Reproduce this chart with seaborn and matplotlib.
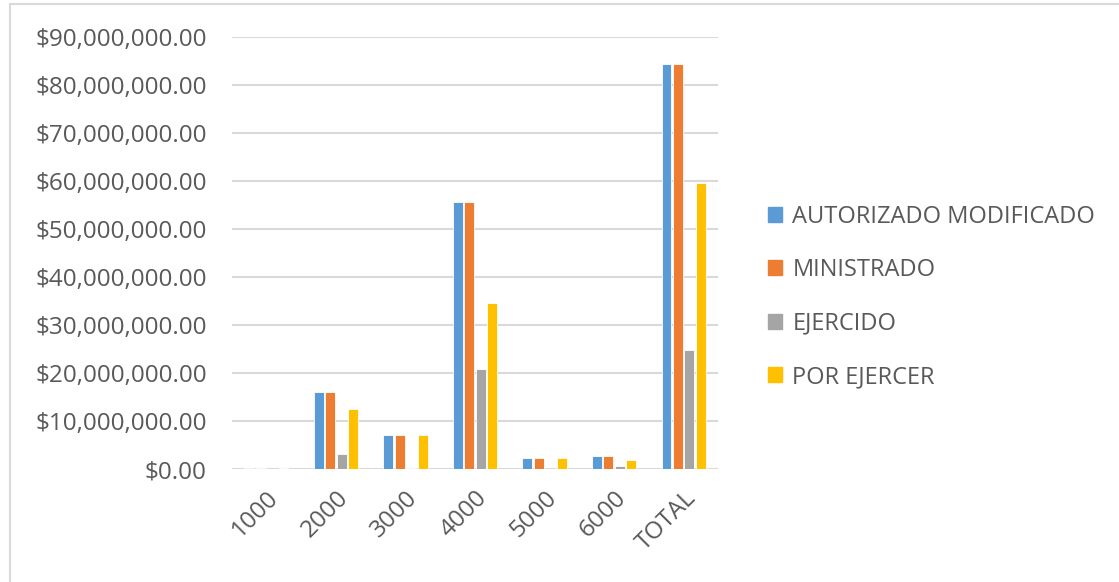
import pandas as pd
import seaborn as sns
import matplotlib
matplotlib.use('Agg')
import matplotlib.pyplot as plt
from matplotlib.lines import Line2D
from matplotlib.ticker import FuncFormatter

# Data (in pesos)
categories = ['1000', '2000', '3000', '4000', '5000', '6000', 'TOTAL']
autorizado = [300000, 16000000, 7200000, 55600000, 2300000, 2700000, 84500000]
ministrado = [300000, 16000000, 7200000, 55600000, 2300000, 2700000, 84500000]
ejercido = [50000, 3200000, 200000, 20800000, 0, 700000, 24800000]
por_ejercer = [250000, 12600000, 7100000, 34600000, 2300000, 1800000, 59600000]

series_names = ['AUTORIZADO MODIFICADO', 'MINISTRADO', 'EJERCIDO', 'POR EJERCER']
colors = ['#5B9BD5', '#ED7D31', '#A5A5A5', '#FFC000']

rows = []
for name, vals in zip(series_names, [autorizado, ministrado, ejercido, por_ejercer]):
    for cat, v in zip(categories, vals):
        rows.append({'Partida': cat, 'Serie': name, 'Monto': v})
df = pd.DataFrame(rows)

sns.set_style('white')
plt.rcParams['font.family'] = ['Open Sans', 'DejaVu Sans']
text_color = '#595959'

fig = plt.figure(figsize=(11.19, 5.82), dpi=100)
ax = fig.add_axes([0.207, 0.194, 0.435, 0.742])

sns.barplot(data=df, x='Partida', y='Monto', hue='Serie', hue_order=series_names,
            palette=colors, saturation=1, width=0.66, gap=0.15, ax=ax, errorbar=None,
            edgecolor='white', linewidth=0.6, legend=False, zorder=3)

ax.set_ylim(0, 90000000)
ax.set_yticks(range(0, 90000001, 10000000))
ax.yaxis.set_major_formatter(FuncFormatter(lambda v, p: '${:,.2f}'.format(v)))
ax.grid(axis='y', color='#d9d9d9', linewidth=1.5, zorder=0)
ax.set_axisbelow(True)
ax.set_xlim(-0.5, len(categories) - 0.5)
for s in ax.spines.values():
    s.set_visible(False)
ax.tick_params(axis='both', length=0, labelsize=17.5, colors=text_color)
ax.tick_params(axis='y', pad=18)
ax.tick_params(axis='x', pad=12)
plt.setp(ax.get_xticklabels(), rotation=45, ha='right', rotation_mode='anchor')
ax.set_xlabel('')
ax.set_ylabel('')

handles = [plt.Rectangle((0, 0), 1, 1, color=c) for c in colors]
fig.legend(handles, series_names, loc='upper left', bbox_to_anchor=(0.667, 0.685),
           frameon=False, fontsize=17, labelcolor=text_color,
           handlelength=0.6, handleheight=0.6, handletextpad=0.45,
           labelspacing=1.25)

# light border on the left and top like the original chart area
fig.add_artist(Line2D([0.009, 0.009], [0.0, 0.993], color='#d9d9d9', linewidth=1.5))
fig.add_artist(Line2D([0.009, 1.0], [0.993, 0.993], color='#d9d9d9', linewidth=1.5))

fig.savefig('out.png', dpi=100)
